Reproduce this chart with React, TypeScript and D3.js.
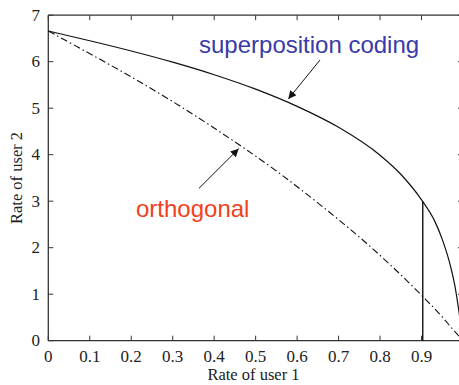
import React from "react";
import * as d3 from "d3";

// Boundary of the superposition-coding rate region
const supR1 = [0, 0.1, 0.2, 0.3, 0.4, 0.5, 0.6, 0.7, 0.8, 0.85, 0.9, 0.933, 0.95, 0.97, 0.98, 1];
const supR2 = [6.66, 6.45, 6.23, 5.99, 5.72, 5.41, 5.04, 4.59, 3.99, 3.58, 3.03, 2.55, 2.18, 1.6, 1.2, 0];

// Boundary of the orthogonal-multiplexing rate region
const orthR1 = [0, 0.072, 0.222, 0.385, 0.565, 0.663, 0.768, 0.903, 0.951, 0.975, 1];
const orthR2 = [6.66, 6.31, 5.56, 4.66, 3.55, 2.87, 2.09, 0.95, 0.5, 0.25, 0];

// Operating point marked by the vertical line
const markR1 = 0.903;
const markR2 = 3.0;

const xTicks = [0, 0.1, 0.2, 0.3, 0.4, 0.5, 0.6, 0.7, 0.8, 0.9];
const yTicks = [0, 1, 2, 3, 4, 5, 6, 7];

const xLabel = "Rate of user 1";
const yLabel = "Rate of user 2";
const supLabel = "superposition coding";
const orthLabel = "orthogonal";

const W = 459;
const H = 385;
const x = d3.scaleLinear().domain([0, 1]).range([48.3, 463]);
const y = d3.scaleLinear().domain([0, 7]).range([340.7, 15.2]);

const serif = "'Liberation Serif', 'Times New Roman', serif";
const sans = "'Liberation Sans', Arial, Helvetica, sans-serif";
const axisColor = "#333";
const TL = 5;

export default function App() {
  const line = d3
    .line<[number, number]>()
    .x((d) => x(d[0]))
    .y((d) => y(d[1]))
    .curve(d3.curveMonotoneX);

  const supPts = supR1.map((v, i) => [v, supR2[i]] as [number, number]);
  const orthPts = orthR1.map((v, i) => [v, orthR2[i]] as [number, number]);

  const x0 = x(0);
  const x1 = x(1);
  const y0 = y(0);
  const y7 = y(7);

  return (
    <svg
      width={W}
      height={H}
      style={{ position: "absolute", left: 0, top: 0, background: "#fff" }}
    >
      <defs>
        <marker
          id="head"
          viewBox="0 0 10 10"
          refX="10"
          refY="5"
          markerWidth="10"
          markerHeight="8"
          markerUnits="userSpaceOnUse"
          orient="auto"
        >
          <path d="M0,0 L10,5 L0,10 z" fill="#111" />
        </marker>
      </defs>

      {/* frame */}
      <g stroke={axisColor} strokeWidth={1.3} fill="none">
        <line x1={x0} y1={y0} x2={x1} y2={y0} />
        <line x1={x0} y1={y0} x2={x0} y2={y7} />
        <line x1={x0} y1={y7} x2={x1} y2={y7} />
        <line x1={x1} y1={y0} x2={x1} y2={y7} />
      </g>

      {/* ticks on all four sides, pointing inward */}
      <g stroke={axisColor} strokeWidth={1}>
        {xTicks.map((t) => (
          <g key={"xt" + t}>
            <line x1={x(t)} x2={x(t)} y1={y0} y2={y0 - TL} />
            <line x1={x(t)} x2={x(t)} y1={y7} y2={y7 + TL} />
          </g>
        ))}
        {yTicks.map((t) => (
          <g key={"yt" + t}>
            <line x1={x0} x2={x0 + TL} y1={y(t)} y2={y(t)} />
            <line x1={x1} x2={x1 - TL} y1={y(t)} y2={y(t)} />
          </g>
        ))}
      </g>

      {/* tick labels */}
      <g fontFamily={serif} fontSize={17} fill="#222">
        {xTicks.map((t) => (
          <text key={"xl" + t} x={x(t)} y={362} textAnchor="middle">
            {d3.format("")(t)}
          </text>
        ))}
        {yTicks.map((t) => (
          <text
            key={"yl" + t}
            x={40}
            y={y(t)}
            textAnchor="end"
            dominantBaseline="central"
          >
            {t}
          </text>
        ))}
      </g>

      {/* axis titles */}
      <text
        x={253.5}
        y={380}
        textAnchor="middle"
        fontFamily={serif}
        fontSize={16.5}
        fill="#222"
      >
        {xLabel}
      </text>
      <text
        transform={`translate(22,${(y0 + y7) / 2}) rotate(-90)`}
        textAnchor="middle"
        fontFamily={serif}
        fontSize={16.5}
        fill="#222"
      >
        {yLabel}
      </text>

      {/* rate region boundaries */}
      <path d={line(orthPts) ?? ""} fill="none" stroke="#111" strokeWidth={1.1} strokeDasharray="7,3,1.5,3" />
      <path d={line(supPts) ?? ""} fill="none" stroke="#111" strokeWidth={1.2} />

      {/* operating point */}
      <line x1={x(markR1)} x2={x(markR1)} y1={y(0)} y2={y(markR2)} stroke="#000" strokeWidth={1.3} />

      {/* annotations */}
      <line x1={320} y1={60} x2={288.3} y2={99} stroke="#111" strokeWidth={1} markerEnd="url(#head)" />
      <text x={199} y={53} fontFamily={sans} fontSize={24} fill="#3a3aa8">
        {supLabel}
      </text>

      <line x1={199} y1={188.3} x2={238.7} y2={148.7} stroke="#111" strokeWidth={1} markerEnd="url(#head)" />
      <text x={136} y={217} fontFamily={sans} fontSize={24} fill="#f5401c">
        {orthLabel}
      </text>
    </svg>
  );
}
